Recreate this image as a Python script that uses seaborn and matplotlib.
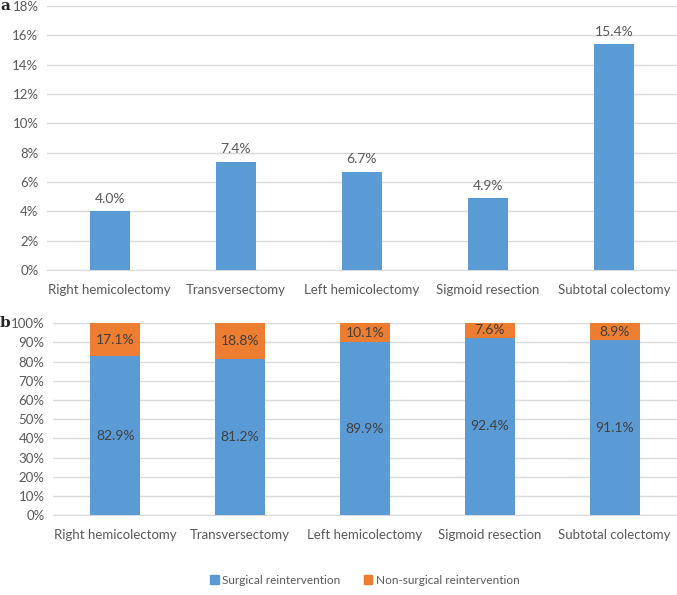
import pandas as pd
import seaborn as sns
import matplotlib.pyplot as plt
from matplotlib.patches import Patch

sns.set_style("white")
plt.rcParams['font.family'] = ['Lato', 'DejaVu Sans']

procedures = ['Right hemicolectomy', 'Transversectomy', 'Left hemicolectomy',
              'Sigmoid resection', 'Subtotal colectomy']
reintervention_rate = [4.0, 7.4, 6.7, 4.9, 15.4]
surgical = [82.9, 81.2, 89.9, 92.4, 91.1]
non_surgical = [17.1, 18.8, 10.1, 7.6, 8.9]

blue = '#5B9BD5'
orange = '#ED7D31'
grey_txt = '#595959'
grid_col = '#D9D9D9'

df = pd.DataFrame({'procedure': procedures, 'rate': reintervention_rate,
                   'surgical': surgical, 'non_surgical': non_surgical})
df['total'] = df['surgical'] + df['non_surgical']

fig = plt.figure(figsize=(6.77, 5.95), dpi=100)
ax1 = fig.add_axes([0.069, 0.546, 0.931, 0.444])
ax2 = fig.add_axes([0.078, 0.134, 0.922, 0.323])

# panel a
sns.barplot(data=df, x='procedure', y='rate', ax=ax1, color=blue, width=0.32,
            saturation=1, linewidth=0, zorder=3)
for i, v in enumerate(df['rate']):
    ax1.text(i, v + 0.45, f'{v:.1f}%', ha='center', va='bottom', fontsize=10, color=grey_txt)
ax1.set_ylim(0, 18)
ax1.set_yticks(range(0, 19, 2))
ax1.set_yticklabels([f'{t}%' for t in range(0, 19, 2)])

# panel b
sns.barplot(data=df, x='procedure', y='total', ax=ax2, color=orange, width=0.4,
            saturation=1, linewidth=0, zorder=3)
sns.barplot(data=df, x='procedure', y='surgical', ax=ax2, color=blue, width=0.4,
            saturation=1, linewidth=0, zorder=4)
for i, (s, n) in enumerate(zip(df['surgical'], df['non_surgical'])):
    ax2.text(i, s / 2, f'{s:.1f}%', ha='center', va='center', fontsize=10, color='#404040', zorder=5)
    ax2.text(i, s + n / 2, f'{n:.1f}%', ha='center', va='center', fontsize=10, color='#404040', zorder=5)
ax2.set_ylim(0, 100)
ax2.set_yticks(range(0, 101, 10))
ax2.set_yticklabels([f'{t}%' for t in range(0, 101, 10)])

for ax in (ax1, ax2):
    ax.set_xlabel('')
    ax.set_ylabel('')
    ax.set_xlim(-0.5, 4.5)
    ax.grid(axis='y', color=grid_col, linewidth=1, zorder=0)
    for s in ['top', 'right', 'left']:
        ax.spines[s].set_visible(False)
    ax.spines['bottom'].set_color(grid_col)
    ax.tick_params(axis='y', length=0, labelsize=9.5, labelcolor=grey_txt, pad=6)
    ax.tick_params(axis='x', length=0, labelsize=9.5, labelcolor=grey_txt, pad=10)

fig.text(0.0, 0.99, 'a', fontsize=11, fontweight='bold', family='DejaVu Serif', va='center')
fig.text(0.0, 0.457, 'b', fontsize=11, fontweight='bold', family='DejaVu Serif', va='center')

handles = [Patch(color=blue, label='Surgical reintervention'),
           Patch(color=orange, label='Non-surgical reintervention')]
fig.legend(handles=handles, loc='center', bbox_to_anchor=(0.539, 0.025), ncol=2, frameon=False,
           fontsize=8.5, handlelength=0.7, handleheight=0.7, handletextpad=0.3,
           columnspacing=2.0, labelcolor=grey_txt)

fig.savefig('out.png', dpi=100)
